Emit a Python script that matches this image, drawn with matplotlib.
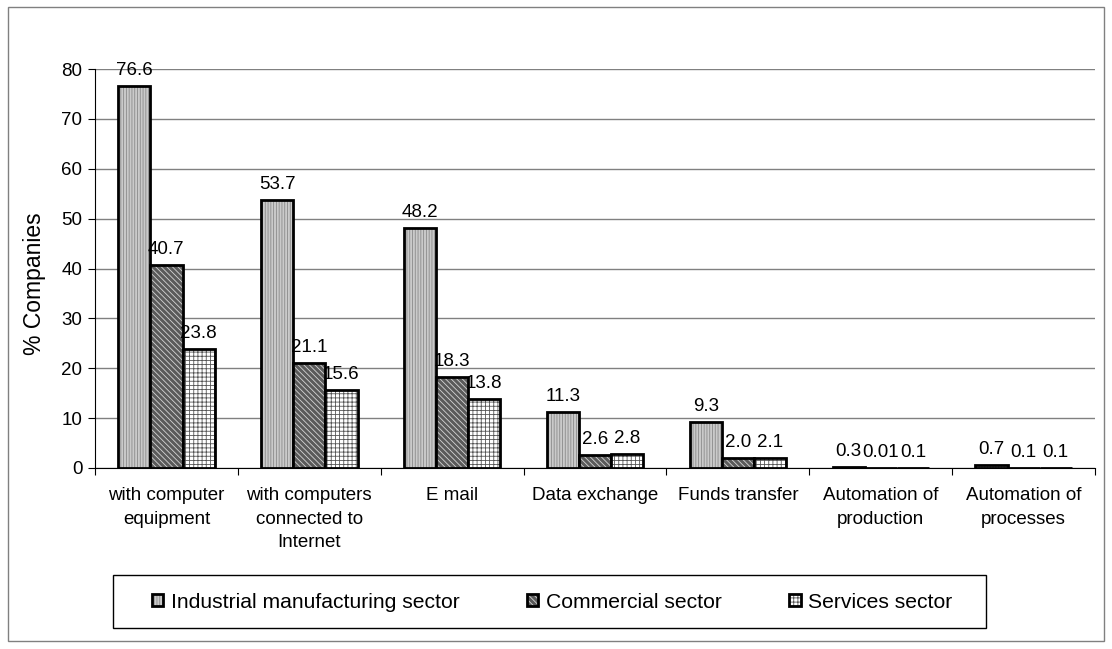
import numpy as np
import matplotlib
matplotlib.use("Agg")
import matplotlib.pyplot as plt
from matplotlib.patches import Rectangle

plt.rcParams['font.family'] = ['Liberation Sans', 'DejaVu Sans']
plt.rcParams['hatch.linewidth'] = 0.6

categories = ["with computer\nequipment", "with computers\nconnected to\nInternet", "E mail",
              "Data exchange", "Funds transfer", "Automation of\nproduction", "Automation of\nprocesses"]
industrial = [76.6, 53.7, 48.2, 11.3, 9.3, 0.3, 0.7]
commercial = [40.7, 21.1, 18.3, 2.6, 2.0, 0.01, 0.1]
services = [23.8, 15.6, 13.8, 2.8, 2.1, 0.1, 0.1]
label_text = [
    ["76.6", "53.7", "48.2", "11.3", "9.3", "0.3", "0.7"],
    ["40.7", "21.1", "18.3", "2.6", "2.0", "0.01", "0.1"],
    ["23.8", "15.6", "13.8", "2.8", "2.1", "0.1", "0.1"],
]
series_names = ["Industrial manufacturing sector", "Commercial sector", "Services sector"]

W, H = 1112, 649
fig = plt.figure(figsize=(W / 100, H / 100), dpi=100)
# outer frame
fig.patches.append(Rectangle((8 / W, 1 - 641 / H), 1096 / W, 634 / H, transform=fig.transFigure,
                             fill=False, edgecolor='#808080', linewidth=1))
# axes: x 95..1095 px, y 69..468 px
ax = fig.add_axes([95 / W, 1 - 468 / H, 1000 / W, 399 / H])

x = np.arange(len(categories))
w = 0.225
styles = [
    dict(facecolor='#cacaca', hatch='||||||', hatch_color='#8a8a8a'),
    dict(facecolor='#5a5a5a', hatch='\\\\\\\\\\\\', hatch_color='#d5d5d5'),
    dict(facecolor='#ffffff', hatch='++++', hatch_color='#555555'),
]
for i, (vals, st) in enumerate(zip([industrial, commercial, services], styles)):
    pos = x + (i - 1) * w
    bars = ax.bar(pos, vals, w, facecolor=st['facecolor'], edgecolor='black',
                  linewidth=2, hatch=st['hatch'], label=series_names[i], zorder=3)
    for b in bars:
        b._hatch_color = matplotlib.colors.to_rgba(st['hatch_color'])
    for p, v, t in zip(pos, vals, label_text[i]):
        ax.annotate(t, (p, v), xytext=(0, 5), textcoords='offset points',
                    ha='center', va='bottom', fontsize=13.5, zorder=4)

ax.set_xlim(-0.5, len(categories) - 0.5)
ax.set_ylim(0, 80)
ax.set_yticks(range(0, 81, 10))
ax.yaxis.grid(True, color='#808080', linewidth=1)
ax.set_axisbelow(True)
ax.set_xticks(np.arange(len(categories) + 1) - 0.5, minor=False)
ax.set_xticklabels([])
ax.set_xticks(x, minor=True)
ax.set_xticklabels(categories, minor=True, fontsize=13.5, linespacing=1.5)
ax.tick_params(axis='x', which='minor', length=0, pad=14)
ax.tick_params(axis='x', which='major', length=5, direction='out')
ax.tick_params(axis='y', labelsize=13.5, length=5, pad=4)
for s in ['top', 'right']:
    ax.spines[s].set_visible(False)
ax.set_ylabel('% Companies', fontsize=16.5)
ax.yaxis.set_label_coords(-0.049, 0.461)

# legend box drawn separately so the padding matches
fig.patches.append(Rectangle((113 / W, 1 - 628 / H), 873 / W, 53 / H, transform=fig.transFigure,
                             fill=False, edgecolor='black', linewidth=1))
leg = fig.legend(loc='center', bbox_to_anchor=(552 / W, 1 - 602 / H), ncol=3, fontsize=15.2,
                 frameon=False, handlelength=0.55, handleheight=0.55, handletextpad=0.35,
                 columnspacing=3.2, borderpad=0)

fig.savefig('out.png', dpi=100)
